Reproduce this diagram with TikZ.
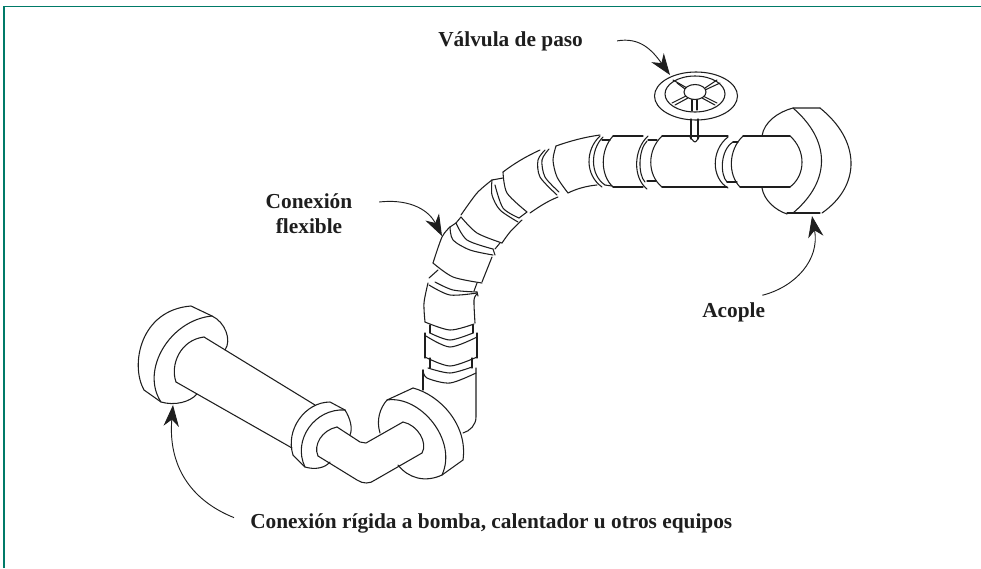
\documentclass[tikz,border=0pt]{standalone}
\usepackage{fontspec}
\setmainfont{Liberation Serif}
\usetikzlibrary{arrows.meta}
\definecolor{rulecolor}{RGB}{0,122,104}
\definecolor{inkcolor}{RGB}{30,30,30}
\tikzset{
  pipeline/.style={line width=0.8pt,draw=inkcolor,line cap=round,line join=round},
  labeltext/.style={font=\bfseries\fontsize{16}{18.75}\selectfont,text=inkcolor,inner sep=0pt},
  callout/.style={line width=0.7pt,draw=inkcolor,-{Stealth[length=16pt,width=11.5pt,inset=5pt]}}
}
\begin{document}
\begin{tikzpicture}[x=0.75pt,y=-0.75pt]
  \useasboundingbox (0,0) rectangle (981,568);
  \draw [rulecolor,line width=1.2pt] (4,568)--(4,6.5)--(981,6.5);

  \node [labeltext,anchor=base west] (valvula) at (438,46) {Válvula de paso};
  \node [labeltext,align=center] (flexible) at (309,214) {Conexión\\flexible};
  \node [labeltext,anchor=base west] (acople) at (702,317) {Acople};
  \node [labeltext,anchor=base west] (rigida) at (250,528) {Conexión rígida a bomba, calentador u otros equipos};

  \coordinate (valvulatip) at (670,75);
  \coordinate (flexibletip) at (442,236);
  \coordinate (acopletip) at (812,216);
  \coordinate (rigidatip) at (173,405);
  \draw [callout] ([xshift=25.5pt]valvula.east) .. controls (640,37) and (652,50) .. (valvulatip);
  \draw [callout] ([xshift=20pt,yshift=9pt]flexible.east) .. controls (405,199) and (427,207) .. (flexibletip);
  \draw [callout] ([xshift=21.5pt,yshift=5pt]acople.north) .. controls (795,287) and (820,260) .. (acopletip);
  \draw [callout] ([xshift=-12pt,yshift=4pt]rigida.west) .. controls (190,500) and (168,465) .. (rigidatip);

  \draw [pipeline] (144,390) .. controls (130,365) and (140,310) .. (191,306)--(212,316);
  \draw [pipeline] (212,316) .. controls (170,320) and (140,370) .. (161,402);
  \draw [pipeline] (144,390)--(161,402) .. controls (175,406) and (190,402) .. (197,394);
  \draw [pipeline] (212,316) .. controls (225,322) and (232,340) .. (225,350);
  \draw [pipeline] (204,337) .. controls (180,340) and (170,365) .. (176,382);
  \draw [pipeline] (204,337)--(315,405);
  \draw [pipeline] (176,382)--(292,448);

  \draw [pipeline] (293,455) .. controls (285,430) and (305,402) .. (330,402)--(345,410);
  \draw [pipeline] (345,410) .. controls (315,408) and (292,440) .. (305,467);
  \draw [pipeline] (293,455)--(305,467) .. controls (315,470) and (325,468) .. (330,462);
  \draw [pipeline] (345,410) .. controls (350,418) and (353,428) .. (350,435);

  \draw [pipeline] (337,427) .. controls (322,430) and (313,445) .. (318,456);
  \draw [pipeline] (337,427)--(360,442)--(366,443)--(403,422);
  \draw [pipeline] (318,456)--(357,480) .. controls (363,484) and (370,484) .. (375,480)--(422,453);
  \draw [pipeline] (403,422) .. controls (418,425) and (428,443) .. (422,453);

  \draw [pipeline] (380,433) .. controls (376,420) and (380,408) .. (387,400)--(413,388);
  \draw [pipeline] (413,388) .. controls (440,395) and (468,425) .. (463,460);
  \draw [pipeline] (387,400) .. controls (420,395) and (458,440) .. (442,475);
  \draw [pipeline] (398,465) .. controls (408,478) and (425,483) .. (442,475);
  \draw [pipeline] (442,475)--(463,460);
  \draw [pipeline] (423,370)--(423,390);
  \draw [pipeline] (476,368)--(476,417) .. controls (476,425) and (470,431) .. (463,433);

  \draw [pipeline] plot [smooth] coordinates {(423,370) (427,378) (450,383) (476,373)};
  \draw [pipeline] plot [smooth] coordinates {(428,368) (450,373) (472,367)};
  \draw [pipeline] (430,358)--(430,368);
  \draw [pipeline] (472,358)--(472,368);
  \draw [pipeline] (425,333)--(425,358);
  \draw [pipeline] (477,333)--(477,358);
  \draw [pipeline] plot [smooth] coordinates {(425,357) (450,366) (477,357)};
  \draw [pipeline] plot [smooth] coordinates {(426,336) (450,347) (477,337)};
  \draw [pipeline] (430,325)--(430,333);
  \draw [pipeline] (473,325)--(473,333);
  \draw [pipeline] plot [smooth] coordinates {(430,333) (450,340) (473,333)};

  \draw [pipeline] plot [smooth] coordinates {(425,322) (424,303) (428,283)};
  \draw [pipeline] plot [smooth] coordinates {(475,323) (474,300) (477,294)};
  \draw [pipeline] plot [smooth] coordinates {(425,322) (450,330) (474,324)};
  \draw [pipeline] plot [smooth] coordinates {(429,285) (450,295) (477,293)};
  \draw [pipeline] plot [smooth] coordinates {(435,282) (453,290) (477,292)};
  \draw [pipeline] (477,292)--(478,296);
  \draw [pipeline] (429,278)--(438,270);
  \draw [pipeline] (477,283)--(474,291);

  \draw [pipeline] plot [smooth] coordinates {(433,263) (453,277) (482,283)};
  \draw [pipeline] plot [smooth] coordinates {(433,263) (442,237) (450,227)};
  \draw [pipeline] (482,282)--(492,257);
  \draw [pipeline] plot [smooth] coordinates {(450,227) (453,240) (470,250) (493,255)};
  \draw [pipeline] plot [smooth] coordinates {(456,223) (467,240) (493,249)};
  \draw [pipeline] (493,249)--(495,255);
  \draw [pipeline] (450,227)--(456,223);
  \draw [pipeline] (461,217)--(456,223);
  \draw [pipeline] (500,243)--(495,249);

  \draw [pipeline] plot [smooth] coordinates {(461,217) (477,233) (502,243)};
  \draw [pipeline] plot [smooth] coordinates {(461,215) (477,193) (492,180)};
  \draw [pipeline] plot [smooth] coordinates {(502,243) (510,232) (522,220)};
  \draw [pipeline] plot [smooth] coordinates {(492,180) (492,195) (500,210) (518,222)};
  \draw [pipeline] plot [smooth] coordinates {(495,185) (503,208) (519,218)};
  \draw [pipeline] (492,180)--(503,178);
  \draw [pipeline] (519,218)--(527,212);

  \draw [pipeline] plot [smooth] coordinates {(503,172) (507,193) (527,212)};
  \draw [pipeline] (503,172) .. controls (515,163) and (525,157) .. (540,150);
  \draw [pipeline] (530,213) .. controls (540,206) and (548,201) .. (558,197);
  \draw [pipeline] plot [smooth] coordinates {(545,150) (538,160) (540,177) (557,195)};
  \draw [pipeline] plot [smooth] coordinates {(549,149) (542,160) (545,177) (559,192)};
  \draw [pipeline] plot [smooth] coordinates {(556,146) (553,160) (557,177) (568,193)};
  \draw [pipeline] (556,146) .. controls (570,141) and (585,137) .. (600,135);
  \draw [pipeline] (568,193) .. controls (576,189) and (586,186) .. (597,185);

  \draw [pipeline] (600,136) .. controls (585,150) and (585,175) .. (602,187);
  \draw [pipeline] (603,137) .. controls (590,150) and (590,175) .. (605,185);
  \draw [pipeline] (613,136) .. controls (600,150) and (600,175) .. (613,187);
  \draw [pipeline] (602,140)--(610,140);
  \draw [pipeline] (605,185)--(612,186);
  \draw [pipeline] (613,136)--(643,136);
  \draw [pipeline] (613,187)--(643,187);

  \draw [pipeline] (648,136) .. controls (633,150) and (633,178) .. (647,189);
  \draw [pipeline] (647,141) .. controls (638,150) and (638,175) .. (645,182);
  \draw [pipeline] (662,136) .. controls (647,150) and (647,175) .. (662,187);
  \draw [pipeline] (648,140)--(657,140);
  \draw [pipeline] (647,181)--(656,181);
  \draw [pipeline] (662,136)--(728,136);
  \draw [pipeline] (662,187)--(727,187);

  \draw [pipeline] (728,137) .. controls (711,150) and (711,178) .. (728,188);
  \draw [pipeline] (733,142) .. controls (720,150) and (720,175) .. (727,182);
  \draw [pipeline] (743,136) .. controls (728,150) and (728,175) .. (740,187);
  \draw [pipeline] (733,142)--(738,142);
  \draw [pipeline] (727,182)--(737,182);
  \draw [pipeline] (743,136)--(790,136);
  \draw [pipeline] (740,187)--(790,187);
  \draw [pipeline] (790,136) .. controls (806,150) and (806,175) .. (790,187);

  \draw [pipeline] (762,136) .. controls (764,122) and (778,112) .. (793,108)--(820,108);
  \draw [pipeline] (820,108) .. controls (860,140) and (862,185) .. (822,213);
  \draw [pipeline] (787,213)--(820,213);
  \draw [pipeline] (793,108) .. controls (830,140) and (832,180) .. (793,213);
  \draw [pipeline] (762,188) .. controls (764,200) and (775,210) .. (787,214);

  \draw [pipeline] (691,119)--(691,139);
  \draw [pipeline] (698,119)--(698,139);
  \draw [pipeline] plot [smooth] coordinates {(690,137) (695,142) (699,137)};
  \draw [pipeline] (692,98)--(692,111);
  \draw [pipeline] (697,98)--(697,110);
  \draw [pipeline] (696,96) circle [x radius=41.5,y radius=24];
  \draw [pipeline] (695,94) circle [x radius=30,y radius=18];
  \draw [pipeline] (673,80)--(687,88);
  \draw [pipeline] (677,83)--(685,89);
  \draw [pipeline] (705,88)--(717,80);
  \draw [pipeline] (705,90)--(720,83);
  \draw [pipeline] (672,103)--(686,96);
  \draw [pipeline] (675,105)--(688,98);
  \draw [pipeline] (703,96)--(717,103);
  \draw [pipeline] (702,98)--(715,105);
  \draw [pipeline,fill=white] (695,92) circle [x radius=11,y radius=7.5];
\end{tikzpicture}
\end{document}
